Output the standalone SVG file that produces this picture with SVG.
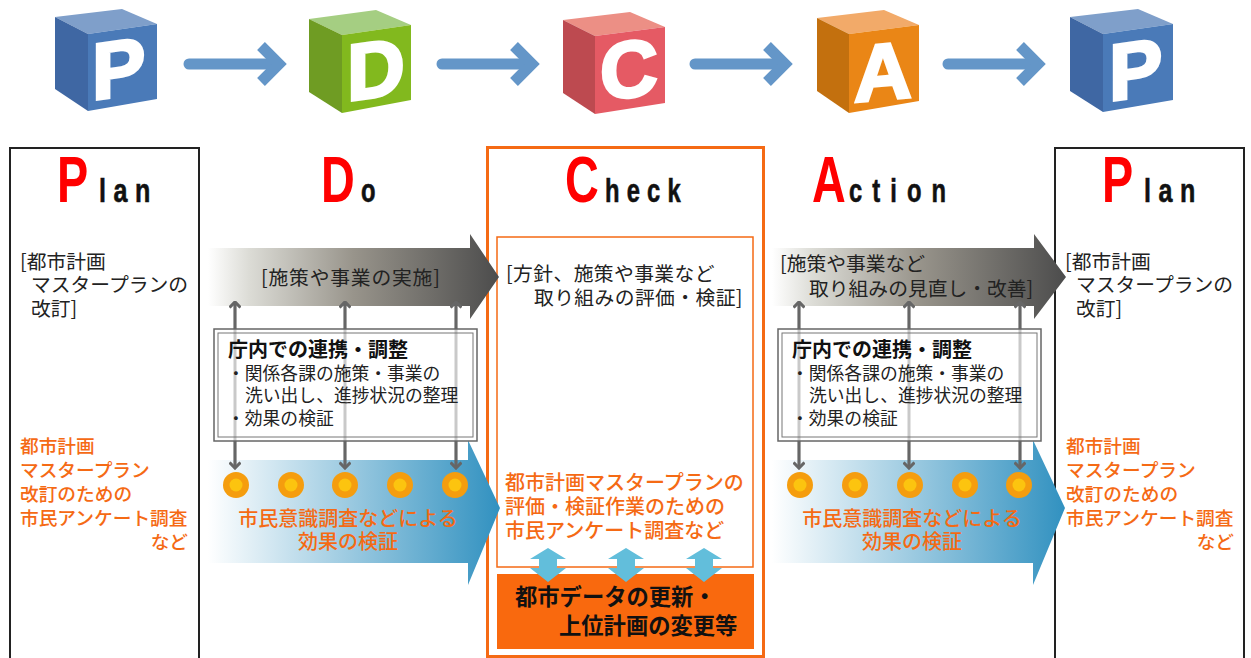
<svg xmlns="http://www.w3.org/2000/svg" width="1251" height="658" viewBox="0 0 1251 658">
<style>
text{font-family:"Noto Sans CJK JP","Liberation Sans",sans-serif}
.t{font-size:19.8px;fill:#222}
.s{font-size:17.8px;fill:#222}
.h{font-size:20px;font-weight:700;fill:#111}
.o{font-size:20px;fill:#f56a14;font-weight:500}
.ol{font-size:18.7px;fill:#f56a14;font-weight:500}
.big{font-family:"Liberation Sans",sans-serif;font-weight:700;fill:#f00;font-size:65px}
.sm{font-family:"Liberation Sans",sans-serif;font-weight:700;fill:#111;font-size:33px;letter-spacing:10px;stroke:#111;stroke-width:.6}
.cl{font-family:"Liberation Sans",sans-serif;font-weight:700;font-size:80px;fill:#fff;stroke:#fff;stroke-width:3}
.box{fill:#fff;stroke:#222;stroke-width:2}
.lnk{stroke:#666;stroke-width:3;fill:none}
.flow{stroke:#6496c8;stroke-width:11;stroke-linecap:round;fill:none}
.flowh{stroke:#6496c8;stroke-width:11;fill:none}
.d1{fill:#f59d0e}.d2{fill:#fcc40f}
.dbl{fill:#62bedb}
.wbox{fill:#fff;stroke:#666;stroke-width:1.500}
</style>
<defs>
<linearGradient id="gk"><stop offset="0" stop-color="#fff"/><stop offset="0.14" stop-color="#dcdcd6"/><stop offset="0.5" stop-color="#98948b"/><stop offset="1" stop-color="#4c4c4c"/></linearGradient>
<linearGradient id="gb"><stop offset="0" stop-color="#fff"/><stop offset="1" stop-color="#3191c0"/></linearGradient>
<marker id="ah" viewBox="0 0 12 12" refX="10.500" refY="6" markerWidth="12" markerHeight="12" markerUnits="userSpaceOnUse" orient="auto-start-reverse"><path d="M5 0.500L10.500 6L5 11.500" fill="none" stroke="#666" stroke-width="3"/></marker>
<path id="dblarrow" class="dbl" d="M0-17L18-6H9V3H18L0 17L-18 3H-9V-6H-18Z"/>
<g id="flowarrow"><path class="flow" d="M0 0H88"/><path class="flowh" d="M72-18L90 0L72 18"/></g>
<g id="links">
<path class="lnk" marker-start="url(#ah)" marker-end="url(#ah)" d="M35 0V166"/>
<path class="lnk" marker-start="url(#ah)" marker-end="url(#ah)" d="M145 0V166"/>
<path class="lnk" marker-start="url(#ah)" marker-end="url(#ah)" d="M256 0V166"/>
</g>
</defs>

<g id="cube-p1"><path fill="#7f9fca" d="M55 17L122 9L157 24L88 34Z"/><path fill="#3f67a3" d="M55 17L88 34V111L55 89Z"/><path fill="#4a7ab8" d="M88 34L157 24V99L88 111Z"/><text class="cl" transform="translate(92 100) skewY(-8)">P</text></g>
<g id="cube-d"><path fill="#a5ce82" d="M309 19L376 10L411 25L342 35Z"/><path fill="#6f9c23" d="M309 19L342 35V113L309 92Z"/><path fill="#82b91e" d="M342 35L411 25V100L342 113Z"/><text class="cl" transform="translate(347 101) skewY(-8)">D</text></g>
<g id="cube-c"><path fill="#ec8f85" d="M563 20L630 12L665 27L595 36Z"/><path fill="#bd4a50" d="M563 20L595 36V114L563 93Z"/><path fill="#e55a64" d="M595 36L665 27V103L595 114Z"/><text class="cl" transform="translate(600 100) skewY(-6)">C</text></g>
<g id="cube-a"><path fill="#f2aa69" d="M817 18L884 10L919 25L849 34Z"/><path fill="#c3700e" d="M817 18L849 34V113L817 91Z"/><path fill="#ea8616" d="M849 34L919 25V101L849 113Z"/><text class="cl" transform="translate(854 102) skewY(-5)">A</text></g>
<g id="cube-p2"><path fill="#7f9fca" d="M1070 17L1138 9L1173 24L1103 34Z"/><path fill="#3f67a3" d="M1070 17L1103 34V112L1070 91Z"/><path fill="#4a7ab8" d="M1103 34L1173 24V100L1103 112Z"/><text class="cl" transform="translate(1109 101) skewY(-8)">P</text></g>

<g id="connectors">
<use href="#flowarrow" x="189" y="64"/>
<use href="#flowarrow" x="442" y="64"/>
<use href="#flowarrow" x="695" y="64"/>
<use href="#flowarrow" x="948" y="64"/>
</g>

<g id="panel-plan1"><rect class="box" x="10" y="148" width="189" height="520"/>
<text class="big" transform="translate(57 202) scale(.72 1)">P</text><text class="sm" transform="translate(99 202) scale(.76 1)">lan</text>
<text class="t"><tspan x="20" y="269">[都市計画</tspan><tspan x="31" y="292">マスタープランの</tspan><tspan x="31" y="316">改訂]</tspan></text>
<text class="ol"><tspan x="20" y="453">都市計画</tspan><tspan x="20" y="477">マスタープラン</tspan><tspan x="20" y="501">改訂のための</tspan><tspan x="20" y="525">市民アンケート調査</tspan><tspan x="188" y="549" text-anchor="end">など</tspan></text></g>

<g id="panel-check"><rect x="487.500" y="147.500" width="276" height="509" fill="none" stroke="#f56a14" stroke-width="3"/>
<rect x="497" y="237" width="256" height="330" fill="#fff" stroke="#f56a14" stroke-width="1.500"/>
<text class="big" transform="translate(565 202) scale(.72 1)">C</text><text class="sm" transform="translate(605 202) scale(.72 1)">heck</text>
<text class="t" letter-spacing=".4"><tspan x="506" y="281">[方針、施策や事業など</tspan><tspan x="534" y="305">取り組みの評価・検証]</tspan></text>
<text class="o"><tspan x="505" y="490">都市計画マスタープランの</tspan><tspan x="505" y="514">評価・検証作業のための</tspan><tspan x="505" y="538">市民アンケート調査など</tspan></text>
<rect x="497" y="574" width="257" height="75" fill="#f9690e"/>
<use href="#dblarrow" x="548" y="565"/><use href="#dblarrow" x="626" y="565"/><use href="#dblarrow" x="704" y="565"/>
<text font-size="22.300" font-weight="700" fill="#111"><tspan x="515" y="605">都市データの更新・</tspan><tspan x="559" y="634">上位計画の変更等</tspan></text>
</g>

<g id="panel-plan2"><rect class="box" x="1055" y="148" width="189" height="520"/>
<text class="big" transform="translate(1102 202) scale(.72 1)">P</text><text class="sm" transform="translate(1144 202) scale(.76 1)">lan</text>
<text class="t"><tspan x="1065" y="269">[都市計画</tspan><tspan x="1076" y="292">マスタープランの</tspan><tspan x="1076" y="316">改訂]</tspan></text>
<text class="ol"><tspan x="1066" y="453">都市計画</tspan><tspan x="1066" y="477">マスタープラン</tspan><tspan x="1066" y="501">改訂のための</tspan><tspan x="1066" y="525">市民アンケート調査</tspan><tspan x="1234" y="549" text-anchor="end">など</tspan></text></g>

<g id="panel-do">
<text class="big" transform="translate(321 202) scale(.72 1)">D</text><text class="sm" transform="translate(361 202) scale(.72 1)">o</text>
<path fill="url(#gk)" d="M208 248H470V234L499 277L470 319V306H208Z"/>
<text class="t" x="261" y="285" letter-spacing=".8">[施策や事業の実施]</text>
<path fill="url(#gb)" d="M208 460H468V440L500 508L468 585V563H208Z"/>
<use href="#links" x="200" y="302"/>
<rect class="wbox" x="214" y="329" width="263" height="112"/><rect x="218" y="333" width="255" height="104" fill="#fff" stroke="#777" stroke-width="1"/>
<g opacity="0.35"><use href="#links" x="200" y="302"/></g>
<text class="h" x="228" y="357">庁内での連携・調整</text>
<text class="s"><tspan x="227" y="380">・関係各課の施策・事業の</tspan><tspan x="245" y="402">洗い出し、進捗状況の整理</tspan><tspan x="227" y="425">・効果の検証</tspan></text>
<g id="dots1"><circle class="d1" cx="236" cy="485" r="13"/><circle class="d2" cx="236" cy="485" r="6.500"/><circle class="d1" cx="291" cy="485" r="13"/><circle class="d2" cx="291" cy="485" r="6.500"/><circle class="d1" cx="345" cy="485" r="13"/><circle class="d2" cx="345" cy="485" r="6.500"/><circle class="d1" cx="400" cy="485" r="13"/><circle class="d2" cx="400" cy="485" r="6.500"/><circle class="d1" cx="455" cy="485" r="13"/><circle class="d2" cx="455" cy="485" r="6.500"/></g>
<text class="o" text-anchor="middle" x="348" y="526">市民意識調査などによる</text><text class="o" text-anchor="middle" x="348" y="549">効果の検証</text>
</g>

<g id="panel-action">
<text class="big" transform="translate(812 202) scale(.72 1)">A</text><text class="sm" transform="translate(849 202) scale(.72 1)" style="letter-spacing:14px">ction</text>
<path fill="url(#gk)" d="M772 248H1034V234L1066 277L1034 319V306H772Z"/>
<text class="t"><tspan x="780" y="271">[施策や事業など</tspan><tspan x="809" y="296">取り組みの見直し・改善]</tspan></text>
<path fill="url(#gb)" d="M772 460H1033V440L1065 508L1033 585V563H772Z"/>
<use href="#links" x="764" y="302"/>
<rect class="wbox" x="778" y="329" width="263" height="112"/><rect x="782" y="333" width="255" height="104" fill="#fff" stroke="#777" stroke-width="1"/>
<g opacity="0.35"><use href="#links" x="764" y="302"/></g>
<text class="h" x="792" y="357">庁内での連携・調整</text>
<text class="s"><tspan x="791" y="380">・関係各課の施策・事業の</tspan><tspan x="809" y="402">洗い出し、進捗状況の整理</tspan><tspan x="791" y="425">・効果の検証</tspan></text>
<g id="dots2"><circle class="d1" cx="800" cy="485" r="13"/><circle class="d2" cx="800" cy="485" r="6.500"/><circle class="d1" cx="855" cy="485" r="13"/><circle class="d2" cx="855" cy="485" r="6.500"/><circle class="d1" cx="910" cy="485" r="13"/><circle class="d2" cx="910" cy="485" r="6.500"/><circle class="d1" cx="965" cy="485" r="13"/><circle class="d2" cx="965" cy="485" r="6.500"/><circle class="d1" cx="1019" cy="485" r="13"/><circle class="d2" cx="1019" cy="485" r="6.500"/></g>
<text class="o" text-anchor="middle" x="912" y="526">市民意識調査などによる</text><text class="o" text-anchor="middle" x="912" y="549">効果の検証</text>
</g>
</svg>
